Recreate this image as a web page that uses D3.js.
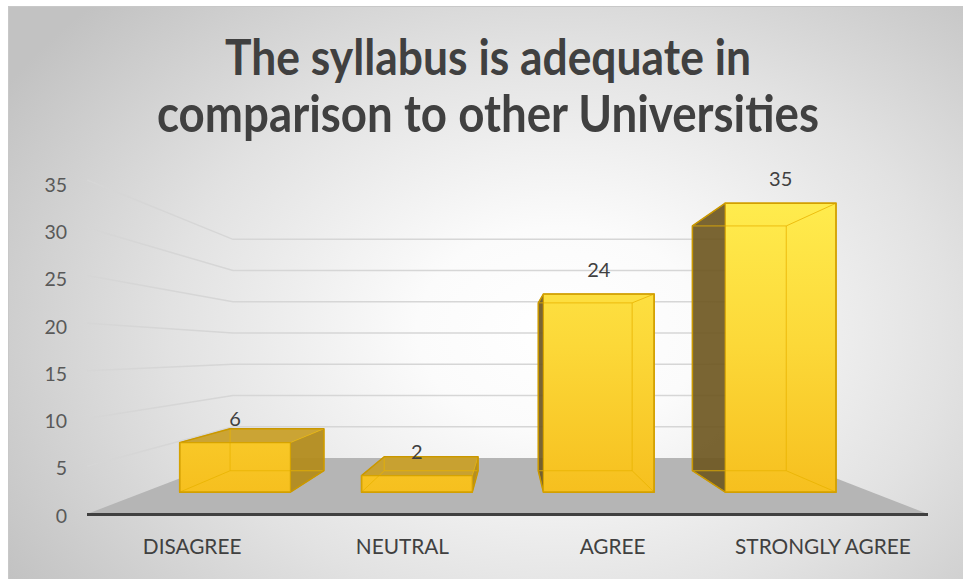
<!DOCTYPE html>
<html><head><meta charset="utf-8">
<script src="https://cdn.jsdelivr.net/npm/d3@7"></script>
<style>body{margin:0;background:#fff}svg{display:block}</style>
</head><body>
<svg id="chart" width="963" height="579"></svg>
<script>
// ---- data ----
const categories = ["DISAGREE", "NEUTRAL", "AGREE", "STRONGLY AGREE"];
const values = [6, 2, 24, 35];
const yTicks = [0, 5, 10, 15, 20, 25, 30, 35];
const titleLines = ["The syllabus is adequate in", "comparison to other Universities"];

// ---- layout ----
const W = 963, H = 579;
const svg = d3.select("#chart");
const defs = svg.append("defs");

const bg = defs.append("radialGradient").attr("id", "bg")
  .attr("gradientUnits", "userSpaceOnUse")
  .attr("cx", 560).attr("cy", 330).attr("r", 650)
  .attr("gradientTransform", "translate(560,330) scale(1,0.72) translate(-560,-330)");
[[0, "#ffffff"], [0.22, "#fbfbfb"], [0.6, "#e2e2e2"], [1, "#c2c2c2"]]
  .forEach(([o, c]) => bg.append("stop").attr("offset", o).attr("stop-color", c));

const fg = defs.append("linearGradient").attr("id", "front")
  .attr("gradientUnits", "userSpaceOnUse").attr("x1", 0).attr("y1", 200).attr("x2", 0).attr("y2", 495);
[[0, "#ffec4e"], [0.5, "#fcd838"], [1, "#f6bf1e"]]
  .forEach(([o, c]) => fg.append("stop").attr("offset", o).attr("stop-color", c));

svg.append("rect").attr("x", 8.5).attr("y", 6.5).attr("width", W - 8).attr("height", H - 6)
  .attr("fill", "url(#bg)").attr("stroke", "#c8c8c8").attr("stroke-width", 1);

// scales (front plane)
const x = d3.scaleBand().domain(categories).range([87, 928]).padding(0);
const y = d3.scaleLinear().domain([0, 35]).range([514, 180]);
const yLab = d3.scaleLinear().domain([0, 35]).range([516, 185]);

// perspective
const VP = { x: 510, y: 352 }, A = 0.5267;
const Z0 = 0.2963, Z1 = 0.6917, BAR = 0.609;
function proj(X, Y, z) {
  const s = 1 / (1 + A * z);
  return [VP.x + (X - VP.x) * s, VP.y + (Y - VP.y) * s];
}
const poly = pts => "M" + pts.map(p => p.join(",")).join("L") + "Z";

// floor
const [xl, xr] = x.range();
svg.append("path")
  .attr("d", poly([proj(xl, y(0), 0), proj(xr, y(0), 0), proj(xr, y(0), 1), proj(xl, y(0), 1)]))
  .attr("fill", "#b5b5b5");

// gridlines: side wall + back wall
svg.append("g").selectAll("path").data(yTicks.filter(v => v > 0)).join("path")
  .attr("d", v => "M" + [proj(xl, y(v), 0), proj(xl, y(v), 1), proj(xr, y(v), 1)].map(p => p.join(",")).join("L"))
  .attr("fill", "none").attr("stroke", "#d6d6d6").attr("stroke-width", 1.5);

// bars
const gb = svg.append("g");
categories.forEach((c, i) => {
  const v = values[i];
  const X0 = x(c) + x.bandwidth() * (1 - BAR) / 2, X1 = X0 + x.bandwidth() * BAR;
  const Yb = y(0), Yt = y(v);
  const f = { lb: proj(X0, Yb, Z0), rb: proj(X1, Yb, Z0), rt: proj(X1, Yt, Z0), lt: proj(X0, Yt, Z0) };
  const b = { lb: proj(X0, Yb, Z1), rb: proj(X1, Yb, Z1), rt: proj(X1, Yt, Z1), lt: proj(X0, Yt, Z1) };
  const g = gb.append("g");
  if (X1 < VP.x) {
    g.append("path").attr("d", poly([f.rb, f.rt, b.rt, b.rb])).attr("fill", "#b38c1d").attr("opacity", 0.95);
  } else if (X0 > VP.x) {
    g.append("path").attr("d", poly([f.lb, f.lt, b.lt, b.lb])).attr("fill", "#6f5822").attr("opacity", 0.92);
  }
  if (Yt > VP.y) {
    g.append("path").attr("d", poly([f.lt, f.rt, b.rt, b.lt])).attr("fill", "#c9a02a").attr("opacity", 0.95);
  }
  g.append("path").attr("d", poly([f.lb, f.rb, f.rt, f.lt])).attr("fill", "url(#front)");
  const edges = [[b.lb, b.rb], [b.rb, b.rt], [b.rt, b.lt], [b.lt, b.lb],
                 [f.lb, b.lb], [f.rb, b.rb], [f.rt, b.rt], [f.lt, b.lt]];
  g.append("path").attr("d", edges.map(e => "M" + e[0].join(",") + "L" + e[1].join(",")).join(""))
    .attr("fill", "none").attr("stroke", "#e9b300").attr("stroke-width", 1).attr("opacity", 0.8);
  let sil;
  if (X1 < VP.x) sil = Yt > VP.y ? [f.lb, f.rb, b.rb, b.rt, b.lt, f.lt] : [f.lb, f.rb, b.rb, b.rt, f.rt, f.lt];
  else sil = Yt > VP.y ? [f.lb, b.lb, b.lt, b.rt, f.rt, f.rb] : [f.lb, b.lb, b.lt, f.lt, f.rt, f.rb];
  g.append("path").attr("d", poly(sil)).attr("fill", "none").attr("stroke", "#c99700").attr("stroke-width", 1.5)
    .attr("stroke-linejoin", "round");
  g.append("path").attr("d", poly([f.lb, f.rb, f.rt, f.lt])).attr("fill", "none").attr("stroke", "#d6a300").attr("stroke-width", 1.2);
  const lp = proj((X0 + X1) / 2, Yt, Z0);
  svg.append("text").attr("x", lp[0]).attr("y", lp[1] - 17).attr("text-anchor", "middle")
    .attr("font-family", "Lato, sans-serif").attr("font-size", 20).attr("fill", "#404040").text(v);
});

// floor front edge / axis line
svg.append("line").attr("x1", xl).attr("x2", xr).attr("y1", y(0) + 0.5).attr("y2", y(0) + 0.5)
  .attr("stroke", "#404040").attr("stroke-width", 3);

// y axis labels
const ya = svg.append("g").attr("transform", "translate(67,0)")
  .call(d3.axisLeft(yLab).tickValues(yTicks).tickSize(0).tickPadding(0));
ya.select(".domain").remove();
ya.selectAll("text").attr("font-family", "Lato, sans-serif").attr("font-size", 19.5).attr("fill", "#595959");

// category labels
const xa = svg.append("g").attr("transform", "translate(0,547)")
  .call(d3.axisBottom(x).tickSize(0).tickPadding(0));
xa.select(".domain").remove();
xa.selectAll("text").attr("font-family", "Lato, sans-serif").attr("font-size", 20.8).attr("fill", "#404040")
  .attr("dy", "0.35em");

// title
const tTargets = [526, 662];
const tY = [75, 132];
titleLines.forEach((t, i) => {
  const el = svg.append("text").attr("x", 0).attr("y", 0).attr("text-anchor", "middle")
    .attr("transform", `translate(488,${tY[i]}) scale(1,1.12)`)
    .attr("font-family", "Lato, sans-serif").attr("font-weight", 700).attr("font-size", 40)
    .attr("fill", "#404040").text(t);
  const w = el.node().getComputedTextLength();
  el.attr("font-size", 40 * tTargets[i] / w);
});
</script>
</body></html>
